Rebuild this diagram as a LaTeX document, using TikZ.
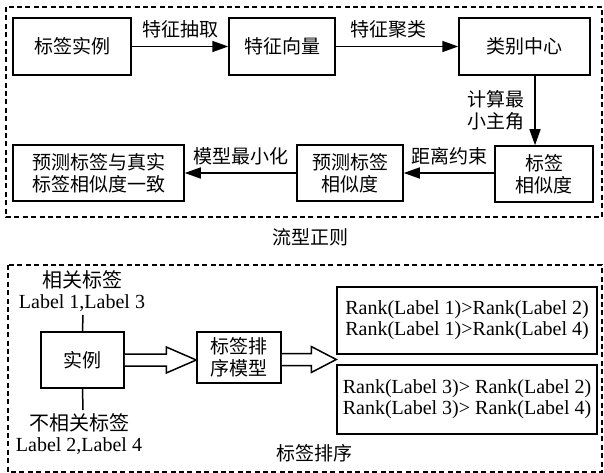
\documentclass[tikz,border=0pt]{standalone}
\usepackage{fontspec}
\setmainfont{Liberation Serif}
\newfontfamily\cjk{Noto Sans CJK SC}
\usetikzlibrary{arrows.meta,calc}
\begin{document}
\begin{tikzpicture}[x=1pt,y=-1pt,
  box/.style={draw,line width=1.5pt,inner sep=0pt,align=center,
    font=\cjk\fontsize{19}{22.5}\selectfont},
  lab/.style={inner sep=0pt,align=center,font=\cjk\fontsize{19}{21.5}\selectfont},
  ltxt/.style={inner sep=0pt,align=center,font=\rmfamily\fontsize{20}{21}\selectfont},
  arr/.style={line width=1.5pt,-{Triangle[length=16pt,width=11pt]}},
  frame/.style={line width=1.3pt,dash pattern=on 5pt off 3.4pt},
  hollow/.style={line width=1.5pt,fill=white,line join=miter},
  plain/.style={line width=1.5pt}]
\useasboundingbox (0,0) rectangle (604,473);

% frames
\draw[frame] (6,7) rectangle (602,217);
\draw[frame] (8,265) rectangle (602,472);

% top section
\node[box,minimum width=118,minimum height=57] (b1) at (72,46.5) {标签实例};
\node[box,minimum width=106,minimum height=57] (b2) at (282,46.5) {特征向量};
\node[box,minimum width=131,minimum height=57] (b3) at (524.5,46.5) {类别中心};
\node[box,minimum width=98,minimum height=56] (b4) at (544,174) {标签\\相似度};
\node[box,minimum width=106,minimum height=56] (b5) at (350,173) {预测标签\\相似度};
\node[box,minimum width=171,minimum height=56] (b6) at (98.5,173) {预测标签与真实\\标签相似度一致};

\draw[arr] (b1.east) -- node[lab,above=8pt] {特征抽取} (b2.west);
\draw[arr] (b2.east) -- node[lab,above=8pt,pos=0.43] {特征聚类} (b3.west);
\coordinate (dtop) at ($(b3.south)+(10.5,0)$);
\draw[arr] (dtop) -- node[lab,left=10pt] {计算最\\小主角} (dtop |- b4.north);
\draw[arr] (b4.west |- b5.east) -- node[lab,above=7pt] {距离约束} (b5.east);
\draw[arr] (b5.west) -- node[lab,above=7pt] {模型最小化} (b6.east);

\node[lab] (cap1) at (310,237) {流型正则};

% bottom section
\node[box,minimum width=83,minimum height=56] (inst) at (82.5,360) {实例};
\node[ltxt] (rel) at (82,291) {{\cjk 相关标签}\\Label 1,Label 3};
\node[ltxt] (irr) at (79,434) {{\cjk 不相关标签}\\Label 2,Label 4};
\coordinate (relend) at (83,315);
\coordinate (irrend) at (83,410);
\draw[plain] (inst.north) -- (relend);
\draw[plain] (inst.south) -- (irrend);

\node[box,minimum width=84,minimum height=51] (model) at (239,357.5) {标签排\\序模型};
\node[box,ltxt,line width=1.5pt,minimum width=260,minimum height=67] (r1) at (467,320.5)
  {Rank(Label 1)>Rank(Label 2)\\Rank(Label 1)>Rank(Label 4)};
\node[box,ltxt,line width=1.5pt,minimum width=260,minimum height=69] (r2) at (467,399.5)
  {Rank(Label 3)> Rank(Label 2)\\Rank(Label 3)> Rank(Label 4)};
\coordinate (tip) at ($(r1.south west)!0.5!(r2.north west)$);

\draw[hollow] ($(inst.east)+(0,-6)$) -- ($(model.west |- inst.east)+(-30,-6)$)
  -- ($(model.west |- inst.east)+(-30,-13)$) -- (model.west |- inst.east)
  -- ($(model.west |- inst.east)+(-30,13)$) -- ($(model.west |- inst.east)+(-30,6)$)
  -- ($(inst.east)+(0,6)$);
\draw[hollow] ($(model.east |- tip)+(0,-6)$) -- ($(tip)+(-25,-6)$)
  -- ($(tip)+(-25,-13)$) -- (tip)
  -- ($(tip)+(-25,13)$) -- ($(tip)+(-25,6)$)
  -- ($(model.east |- tip)+(0,6)$);

\node[lab] (cap2) at (314,453) {标签排序};
\end{tikzpicture}
\end{document}
